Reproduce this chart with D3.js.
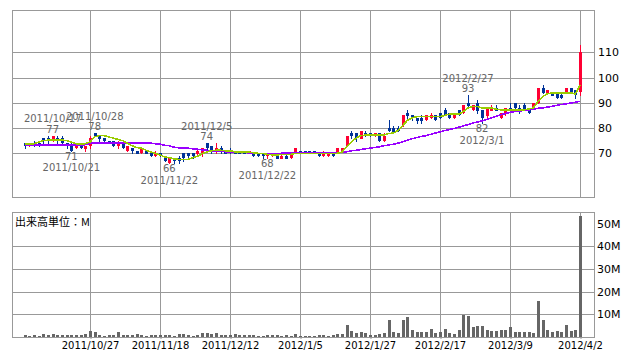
<!DOCTYPE html>
<html>
<head>
<meta charset="utf-8">
<script src="https://cdn.jsdelivr.net/npm/d3@7"></script>
<style>
  body { margin: 0; background: #fff; }
  svg { display: block; }
</style>
</head>
<body>
<div id="chart"></div>
<script>
// trading days shown on the chart
const dates = [
  "2011/10/6","2011/10/7","2011/10/11","2011/10/12","2011/10/13","2011/10/14","2011/10/17","2011/10/18","2011/10/19","2011/10/20",
  "2011/10/21","2011/10/24","2011/10/25","2011/10/26","2011/10/27","2011/10/28","2011/10/31","2011/11/1","2011/11/2","2011/11/4",
  "2011/11/7","2011/11/8","2011/11/9","2011/11/10","2011/11/11","2011/11/14","2011/11/15","2011/11/16","2011/11/17","2011/11/18",
  "2011/11/21","2011/11/22","2011/11/24","2011/11/25","2011/11/28","2011/11/29","2011/11/30","2011/12/1","2011/12/2","2011/12/5",
  "2011/12/6","2011/12/7","2011/12/8","2011/12/9","2011/12/12","2011/12/13","2011/12/14","2011/12/15","2011/12/16","2011/12/19",
  "2011/12/20","2011/12/21","2011/12/22","2011/12/26","2011/12/27","2011/12/28","2011/12/29","2011/12/30","2012/1/4","2012/1/5",
  "2012/1/6","2012/1/10","2012/1/11","2012/1/12","2012/1/13","2012/1/16","2012/1/17","2012/1/18","2012/1/19","2012/1/20",
  "2012/1/23","2012/1/24","2012/1/25","2012/1/26","2012/1/27","2012/1/30","2012/1/31","2012/2/1","2012/2/2","2012/2/3",
  "2012/2/6","2012/2/7","2012/2/8","2012/2/9","2012/2/10","2012/2/13","2012/2/14","2012/2/15","2012/2/16","2012/2/17",
  "2012/2/20","2012/2/21","2012/2/22","2012/2/23","2012/2/24","2012/2/27","2012/2/28","2012/2/29","2012/3/1","2012/3/2",
  "2012/3/5","2012/3/6","2012/3/7","2012/3/8","2012/3/9","2012/3/12","2012/3/13","2012/3/14","2012/3/15","2012/3/16",
  "2012/3/19","2012/3/21","2012/3/22","2012/3/23","2012/3/26","2012/3/27","2012/3/28","2012/3/29","2012/3/30","2012/4/2"
];

const open = [74,73,74,74,76,76,75,76,76,74, 73,72,74,72,73,78,77,76,75,75, 73,74,71,72,71,70,71,70,69,70,
              68,66,68,68,70,70,70,70,70,74, 73,71,72,71,71,71,71,70,70,70, 70,70,69,69,69,68,69,68,70,71,
              71,71,71,70,69,69,70,70,71,73, 78,78,76,78,78,77,78,75,80,80, 80,81,86,85,84,84,83,84,85,86,
              87,86,84,87,86,90,87,90,87,85, 87,88,84,86,88,90,88,89,88,88, 90,96,94,94,94,93,94,96,95,94];
const high = [74,74,75,74,76,77,77,77,77,74, 74,74,74,73,77,78,77,76,75,75, 75,74,73,72,71,72,71,70,71,70,
              68,68,68,69,70,70,70,72,72,74, 73,74,73,71,72,71,71,71,71,70, 70,70,70,70,69,70,70,70,72,71,
              71,71,71,70,71,70,70,72,72,77, 79,78,79,79,78,78,78,78,83,81, 81,85,87,85,84,85,85,86,85,86,
              88,86,86,87,89,93,89,91,87,88, 89,89,86,88,90,90,89,90,88,90, 96,97,95,94,94,94,96,96,95,113];
const low  = [72,73,73,73,74,74,75,74,74,72, 71,72,72,71,72,77,75,75,74,73, 72,72,71,70,70,70,70,69,69,69,
              67,66,66,66,67,68,68,69,69,71, 70,70,70,70,70,70,70,70,70,69, 69,68,68,69,68,68,68,68,70,70,
              70,70,70,69,69,69,69,70,71,73, 76,75,76,77,77,77,75,75,79,78, 79,81,84,83,82,82,83,84,83,84,
              85,84,84,85,86,88,87,86,82,84, 87,87,84,85,87,88,86,87,86,88, 90,94,94,93,92,92,94,94,92,93];
const close = [73,74,73,73,75,75,77,75,74,73, 71,74,72,73,76,77,76,75,74,73, 74,72,73,71,70,72,70,69,70,69,
               67,68,67,67,68,69,69,71,72,72, 71,72,71,70,71,70,70,70,71,69, 69,69,70,70,68,69,68,70,72,70,
               70,70,70,69,70,70,69,72,72,77, 77,76,79,77,77,78,75,77,79,78, 79,85,85,84,83,83,85,85,83,84,
               85,84,86,85,89,89,89,87,84,88, 88,87,86,88,87,88,87,87,86,90, 96,94,95,93,92,92,96,94,93,110];

// moving averages (green short, purple long)
const maShort = [73.8,73.8,73.8,74.5,75, 75.2,75.3,75.3,75.3,75, 74.5,73.8,73.8,73.8,74.5, 76.5,77,77,76.5,76,
                 75.5,75,74,73,72.3, 72,71.2,70.5,70,69.3, 68.6,68.2,67.8,67.6,67.5, 67.6,68.2,68.8,69.8,70.5,
                 71,71.2,71.2,71,71, 70.6,70.5,70.5,70.5,70.2, 70,70,69.6,69.4,69.4, 69.5,69.5,69.6,69.9,70,
                 70,70,70,70,70, 70,70,70,70.5,72.5, 74.5,76,77,77.2,77.2, 77.2,77.2,77.2,77.8,78,
                 79,81,83,84,84.5, 84.5,84.5,84.5,84.5,84.5, 85,85.5,85.5,85.5,86.5, 88,88.5,88.5,88,88,
                 88,87.5,87.2,87.2,87.2, 87.2,87.2,87.2,87.5,88, 90.5,92.5,93.5,94,94, 94,94,94,93.5,97];
const maLong = [73.4,73.4,73.4,73.4,73.4, 73.4,73.4,73.4,73.4,73.4, 73.4,73.4,73.4,73.4,74, 74,74,74,74,74,
                74,74,74,74,74, 74,74,74,73.8,73.6, 73.2,73,72.4,72.2,72, 72,71.8,71.6,71.4,71.2,
                71,71,70.8,70.6,70.6, 70.5,70.4,70.3,70.2,70, 70,70,70,70,70, 70,70.1,70.1,70.1,70.1,
                70.1,70.1,70.1,70.1,70.1, 70.1,70.1,70.1,70.4,70.6, 71,71.2,71.5,71.8,72, 72.3,72.6,73,73.3,73.6,
                74,74.5,75.2,75.8,76.2, 76.7,77,77.5,78,78.5, 79,79.4,79.8,80.3,80.8, 81.4,82,82.4,82.8,83.4,
                84,84.6,85.2,85.8,86.2, 86.5,86.7,87,87.2,87.5, 87.8,88,88.3,88.6,89, 89.3,89.6,89.9,90.2,90.6];

// volume, millions
const volume = [0.9,0.6,0.9,0.6,1.3,1.0,1.3,0.9,0.9,0.9, 0.9,0.9,0.9,1.3,2.6,2.2,0.7,0.6,0.9,0.9,
                2.2,0.9,0.9,0.9,1.3,0.9,0.6,0.9,0.9,0.9, 0.9,0.9,0.6,1.3,1.3,0.9,0.6,1.0,1.6,1.6,
                1.3,1.8,0.9,0.9,0.9,1.3,0.9,0.9,0.9,0.9, 0.6,0.6,0.9,0.9,0.9,0.6,0.9,0.6,1.3,0.6,
                0.6,0.6,0.6,0.9,0.9,0.6,0.9,1.3,1.3,5.2, 2.6,1.9,2.2,1.9,0.9,0.9,1.3,1.9,7.4,2.2,
                1.9,7.4,8.7,3.0,2.2,2.2,2.2,3.5,1.9,2.2, 3.5,1.9,1.3,3.0,9.6,9.1,4.3,4.8,4.8,3.0,
                2.6,2.6,3.0,3.0,4.3,2.2,2.2,2.2,2.2,1.9, 15.7,7.4,3.0,2.2,2.6,2.2,5.2,2.6,3.0,53.5];

const tickDates = ["2011/10/27","2011/11/18","2011/12/12","2012/1/5","2012/1/27","2012/2/17","2012/3/9","2012/4/2"];
const priceTicks = [70, 80, 90, 100, 110];
const volTicks = [10, 20, 30, 40, 50];
const volGridTicks = [10, 20, 30, 40];

// high / low annotations
const markDates = ["2011/10/17","2011/10/21","2011/10/28","2011/11/22","2011/12/5","2011/12/22","2012/2/27","2012/3/1"];
const markKinds = ["high","low","high","low","high","low","high","low"];

const width = 638, height = 362;
const left = 12, right = 594;
const top1 = 10, bottom1 = 197;
const top2 = 212, bottom2 = 337;
const gridColor = "#999";
const upColor = "#ff0033", downColor = "#003399";

const svg = d3.select("#chart").append("svg")
    .attr("width", width).attr("height", height)
    .attr("viewBox", [0, 0, width, height]);

svg.append("rect").attr("width", width).attr("height", height).attr("fill", "#fff");

const x = d3.scalePoint().domain(dates).range([24.7, 580]);
const y = d3.scaleLinear().domain([70, 110]).range([153.3, 52.3]);
const yv = d3.scaleLinear().domain([0, 40]).range([bottom2, 246.2]);

const px = d => Math.round(x(d)) + 0.5;

// ---- price panel grid
const g1 = svg.append("g").attr("shape-rendering", "crispEdges");
g1.selectAll(".hg").data(priceTicks).join("line")
    .attr("x1", left).attr("x2", right)
    .attr("y1", d => Math.round(y(d)) + 0.5).attr("y2", d => Math.round(y(d)) + 0.5)
    .attr("stroke", gridColor);
g1.selectAll(".vg").data(tickDates).join("line")
    .attr("x1", px).attr("x2", px)
    .attr("y1", top1).attr("y2", bottom1)
    .attr("stroke", gridColor);
g1.append("rect")
    .attr("x", left + 0.5).attr("y", top1 + 0.5)
    .attr("width", right - left).attr("height", bottom1 - top1)
    .attr("fill", "none").attr("stroke", gridColor);

// ---- volume panel grid
const g2 = svg.append("g").attr("shape-rendering", "crispEdges");
g2.selectAll(".hg").data(volGridTicks).join("line")
    .attr("x1", left).attr("x2", right)
    .attr("y1", d => Math.round(yv(d)) + 0.5).attr("y2", d => Math.round(yv(d)) + 0.5)
    .attr("stroke", gridColor);
g2.selectAll(".vg").data(tickDates).join("line")
    .attr("x1", px).attr("x2", px)
    .attr("y1", top2).attr("y2", bottom2)
    .attr("stroke", gridColor);
g2.append("rect")
    .attr("x", left + 0.5).attr("y", top2 + 0.5)
    .attr("width", right - left).attr("height", bottom2 - top2)
    .attr("fill", "none").attr("stroke", gridColor);

// ---- candles
const candles = dates.map((d, i) => ({ d, o: open[i], h: high[i], l: low[i], c: close[i] }));
const cg = svg.append("g").attr("shape-rendering", "crispEdges");
cg.selectAll(".wick").data(candles).join("line")
    .attr("x1", d => px(d.d)).attr("x2", d => px(d.d))
    .attr("y1", d => Math.round(y(d.h))).attr("y2", d => Math.round(y(d.l)) + 1)
    .attr("stroke", d => d.c > d.o ? upColor : downColor);
cg.selectAll(".body").data(candles).join("rect")
    .attr("x", d => Math.round(x(d.d)) - 1)
    .attr("width", 3)
    .attr("y", d => Math.round(y(Math.max(d.o, d.c))))
    .attr("height", d => Math.max(1, Math.round(Math.abs(y(d.o) - y(d.c)))))
    .attr("fill", d => d.c > d.o ? upColor : downColor);

// ---- moving averages
const line = arr => d3.line().x((d, i) => x(dates[i])).y(d => y(d))(arr);
svg.append("path").attr("d", line(maLong))
    .attr("fill", "none").attr("stroke", "#9900ff").attr("stroke-width", 1.6)
    .attr("shape-rendering", "crispEdges");
svg.append("path").attr("d", line(maShort))
    .attr("fill", "none").attr("stroke", "#99cc00").attr("stroke-width", 1.6)
    .attr("shape-rendering", "crispEdges");

// ---- volume bars
svg.append("g").attr("shape-rendering", "crispEdges")
  .selectAll("rect").data(volume).join("rect")
    .attr("x", (d, i) => Math.round(x(dates[i])) - 1)
    .attr("width", 3)
    .attr("y", d => Math.round(yv(d)))
    .attr("height", d => bottom2 - Math.round(yv(d)))
    .attr("fill", "#666");

// ---- high / low labels
const font = "DejaVu Sans, sans-serif";
const marks = svg.append("g").attr("font-family", font).attr("font-size", 10)
    .attr("fill", "#666").attr("text-anchor", "middle");
markDates.forEach((md, k) => {
    const i = dates.indexOf(md);
    const isHigh = markKinds[k] === "high";
    const v = isHigh ? high[i] : low[i];
    const yy = y(v);
    marks.append("text").attr("x", x(md)).attr("y", isHigh ? yy - 3 : yy + 9).text(v);
    marks.append("text").attr("x", x(md)).attr("y", isHigh ? yy - 13.5 : yy + 20.5).text(md);
});

// ---- axes
const ay = svg.append("g").attr("transform", `translate(${right},0)`)
    .call(d3.axisRight(y).tickValues(priceTicks).tickSize(0).tickPadding(4));
ay.select(".domain").remove();
ay.selectAll("text").attr("font-family", font).attr("font-size", 11).attr("fill", "#000");

const av = svg.append("g").attr("transform", `translate(${right},0)`)
    .call(d3.axisRight(yv).tickValues(volTicks).tickSize(0).tickPadding(3).tickFormat(d => d + "M"));
av.select(".domain").remove();
av.selectAll("text").attr("font-family", font).attr("font-size", 11).attr("fill", "#000");

const ax = svg.append("g").attr("transform", `translate(0,${bottom2})`)
    .call(d3.axisBottom(x).tickValues(tickDates).tickSize(2).tickPadding(3));
ax.select(".domain").remove();
ax.selectAll("line").attr("stroke", gridColor).attr("transform", "translate(0.5,0)");
ax.selectAll("text").attr("font-family", font).attr("font-size", 10).attr("fill", "#000");

svg.append("text")
    .attr("x", 15).attr("y", 226)
    .attr("font-family", "Noto Sans CJK JP, sans-serif").attr("font-size", 11)
    .attr("fill", "#000")
    .text("出来高単位：M");
</script>
</body>
</html>
